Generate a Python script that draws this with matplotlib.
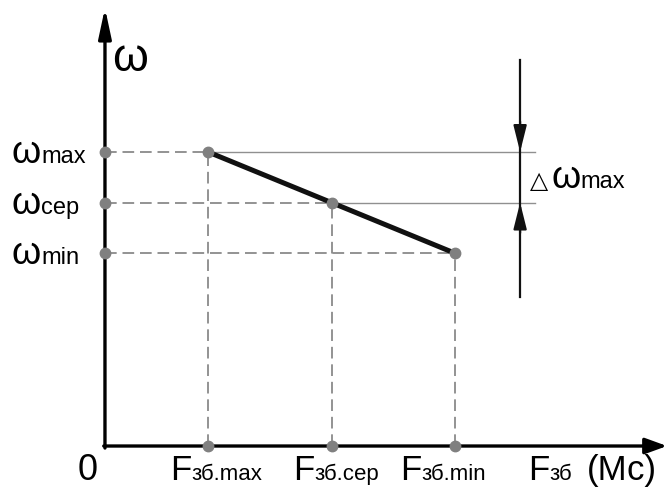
import matplotlib.pyplot as plt

# operating points: braking force vs. angular speed
f_ticks = [1.0, 2.2, 3.4]          # Fзб.max, Fзб.сер, Fзб.min
omega_vals = [2.9, 2.4, 1.9]       # ωmax, ωсер, ωmin
f_subs = ["зб.max", "зб.сер", "зб.min"]
omega_subs = ["max", "сер", "min"]

FONT = ["Liberation Sans", "DejaVu Sans"]
GRAY = "#808080"

fig = plt.figure(figsize=(6.67, 4.88), dpi=100)
ax = fig.add_axes([0, 0, 1, 1])
ax.set_xlim(-1.019, 5.456)
ax.set_ylim(-0.414, 4.398)
ax.axis("off")


def label(x, y, main, sub, size, sub_size):
    """Main text with a smaller suffix sharing the same baseline."""
    t = ax.text(x, y, main, fontsize=size, family=FONT,
                ha="left", va="baseline")
    s = ax.annotate(sub, xy=(1.0, y), xycoords=(t, "data"),
                    fontsize=sub_size, family=FONT, ha="left", va="baseline")
    return s


# axes with arrow heads
ax.annotate("", xy=(0, 4.32), xytext=(0, -0.02),
            arrowprops=dict(arrowstyle="-|>,head_length=0.75,head_width=0.16",
                            lw=2.4, color="black", mutation_scale=24,
                            shrinkA=0, shrinkB=0))
ax.annotate("", xy=(5.456, 0), xytext=(-0.012, 0),
            arrowprops=dict(arrowstyle="-|>,head_length=0.55,head_width=0.2",
                            lw=2.4, color="black", mutation_scale=24,
                            shrinkA=0, shrinkB=0))

# dashed projections onto both axes
for f, w in zip(f_ticks, omega_vals):
    ax.plot([0, f], [w, w], color=GRAY, lw=1.2, dashes=(7, 3.5), zorder=2)
    ax.plot([f, f], [0, w], color=GRAY, lw=1.2, dashes=(7, 3.5), zorder=2)

# thin reference lines for the speed drop
x_ref = 4.17
for f, w in zip(f_ticks[:2], omega_vals[:2]):
    ax.plot([f, x_ref], [w, w], color="#909090", lw=1.0, zorder=2)

# characteristic
ax.plot(f_ticks, omega_vals, color="#111111", lw=3.6,
        solid_capstyle="butt", zorder=3)
ax.plot(f_ticks, omega_vals, "o", color=GRAY, ms=7.5, zorder=4)
ax.plot([0] * 3, omega_vals, "o", color=GRAY, ms=7.5, zorder=4)
ax.plot(f_ticks, [0] * 3, "o", color=GRAY, ms=7.5, zorder=4)

# Δω dimension arrows
x_dim = 4.03
ax.plot([x_dim, x_dim], [1.469, 3.807], color="#111111", lw=1.6, zorder=3)
arrow = dict(arrowstyle="-|>,head_length=0.8,head_width=0.2",
             color="#111111", lw=1.6, mutation_scale=20,
             shrinkA=0, shrinkB=0)
ax.annotate("", xy=(x_dim, omega_vals[0]), xytext=(x_dim, omega_vals[0] + 0.3),
            arrowprops=arrow)
ax.annotate("", xy=(x_dim, omega_vals[1]), xytext=(x_dim, omega_vals[1] - 0.3),
            arrowprops=arrow)

# text
ax.text(0.07, 3.70, "ω", fontsize=33, family=FONT, ha="left", va="baseline")
for w, s in zip(omega_vals, omega_subs):
    label(-0.905, w - 0.11, "ω", s, 27, 17)

base = -0.34
ax.text(-0.165, base, "0", fontsize=26, family=FONT,
        ha="center", va="baseline")
f_left = [0.631, 1.825, 2.864]
for x, s in zip(f_left, f_subs):
    label(x, base, "F", s, 25, 16)
label(4.107, base, "F", "зб", 25, 16)
ax.text(4.68, base, "(Мс)", fontsize=25, family=FONT,
        ha="left", va="baseline")

ax.text(4.13, 2.544, "△", fontsize=17, family=FONT,
        ha="left", va="baseline")
label(4.335, 2.544, "ω", "max", 27, 17)

fig.savefig("out.png", dpi=100)
